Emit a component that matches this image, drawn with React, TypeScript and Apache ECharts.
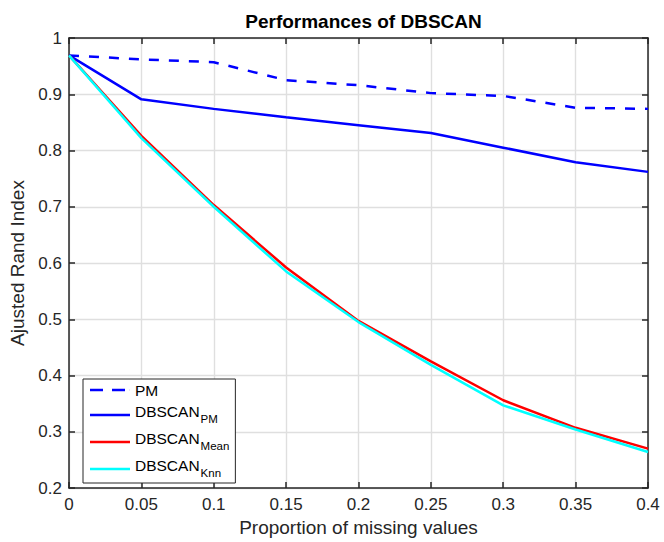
import React, { useEffect, useRef } from "react";
import * as echarts from "echarts";

const xValues = [0, 0.05, 0.1, 0.15, 0.2, 0.25, 0.3, 0.35, 0.4];
const pm = [0.969, 0.962, 0.957, 0.925, 0.916, 0.902, 0.897, 0.876, 0.874];
const dbscanPM = [0.969, 0.891, 0.874, 0.859, 0.845, 0.831, 0.805, 0.779, 0.762];
const dbscanMean = [0.969, 0.826, 0.703, 0.592, 0.497, 0.425, 0.356, 0.307, 0.27];
const dbscanKnn = [0.969, 0.822, 0.7, 0.585, 0.495, 0.419, 0.347, 0.304, 0.264];

const seriesNames = ["PM", "DBSCAN_PM", "DBSCAN_Mean", "DBSCAN_Knn"];
const seriesColors = ["#0000ff", "#0000ff", "#ff0000", "#00ffff"];
const seriesData = [pm, dbscanPM, dbscanMean, dbscanKnn];

const FONT = "'Liberation Sans', Arial, Helvetica, sans-serif";
const AXIS_COLOR = "#262626";
const DASH_ICON = "path://M0,0h13v2.5h-13zM22,0h13v2.5h-13zM39.9,0h0.1v2.5h-0.1z";

export default function App() {
  const ref = useRef<HTMLDivElement>(null);

  useEffect(() => {
    if (!ref.current) return;
    const chart = echarts.init(ref.current, null, { renderer: "svg" });

    const baseX = {
      type: "value" as const,
      min: 0,
      max: 0.4,
      interval: 0.05,
    };
    const baseY = {
      type: "value" as const,
      min: 0.2,
      max: 1,
      interval: 0.1,
    };

    const option = {
      animation: false,
      backgroundColor: "#ffffff",
      textStyle: { fontFamily: FONT },
      title: {
        text: "Performances of DBSCAN",
        left: 358.5,
        textAlign: "center",
        top: 7,
        textStyle: {
          fontFamily: FONT,
          fontSize: 19,
          fontWeight: "bold",
          color: "#000000",
        },
      },
      grid: { left: 69, right: 16, top: 38, bottom: 48, containLabel: false },
      legend: {
        orient: "vertical",
        left: 83,
        top: 379,
        padding: [3, 6, 4, 7],
        itemGap: 5,
        itemWidth: 40,
        itemHeight: 2.5,
        symbolKeepAspect: false,
        backgroundColor: "#ffffff",
        borderColor: AXIS_COLOR,
        borderWidth: 1,
        borderRadius: 0,
        data: seriesNames.map((name, i) => ({
          name,
          icon: i === 0 ? DASH_ICON : "rect",
          itemStyle: { color: seriesColors[i], borderWidth: 0 },
        })),
        formatter: (name: string) => {
          if (name.indexOf("_") < 0) return "{p|" + name + "}";
          const parts = name.split("_");
          return "{a|" + parts[0] + "}{b|" + parts[1] + "}";
        },
        textStyle: {
          fontFamily: FONT,
          color: "#000000",
          rich: {
            p: { fontFamily: FONT, fontSize: 15.5, color: "#000000", padding: [2, 0, 2, 0] },
            a: { fontFamily: FONT, fontSize: 15.5, color: "#000000", padding: [0, 0, 8, 0] },
            b: { fontFamily: FONT, fontSize: 11.5, color: "#000000", padding: [8, 0, 0, 1] },
          },
        },
      },
      xAxis: [
        {
          ...baseX,
          position: "bottom",
          name: "Proportion of missing values",
          nameLocation: "middle",
          nameGap: 30,
          nameTextStyle: { fontFamily: FONT, fontSize: 19, color: AXIS_COLOR },
          axisLine: { show: true, onZero: false, lineStyle: { color: AXIS_COLOR, width: 1.5 } },
          axisTick: { show: true, inside: true, length: 6, lineStyle: { color: AXIS_COLOR, width: 1.5 } },
          axisLabel: { fontFamily: FONT, fontSize: 17, color: AXIS_COLOR, margin: 8 },
          splitLine: { show: true, lineStyle: { color: "#dfdfdf", width: 1.4 } },
        },
        {
          ...baseX,
          position: "top",
          axisLine: { show: true, onZero: false, lineStyle: { color: AXIS_COLOR, width: 1.5 } },
          axisTick: { show: true, inside: true, length: 6, lineStyle: { color: AXIS_COLOR, width: 1.5 } },
          axisLabel: { show: false },
          splitLine: { show: false },
        },
      ],
      yAxis: [
        {
          ...baseY,
          position: "left",
          name: "Ajusted Rand Index",
          nameLocation: "middle",
          nameGap: 40,
          nameTextStyle: { fontFamily: FONT, fontSize: 19, color: AXIS_COLOR },
          axisLine: { show: true, onZero: false, lineStyle: { color: AXIS_COLOR, width: 1.5 } },
          axisTick: { show: true, inside: true, length: 6, lineStyle: { color: AXIS_COLOR, width: 1.5 } },
          axisLabel: { fontFamily: FONT, fontSize: 17, color: AXIS_COLOR, margin: 7 },
          splitLine: { show: true, lineStyle: { color: "#dfdfdf", width: 1.4 } },
        },
        {
          ...baseY,
          position: "right",
          axisLine: { show: true, onZero: false, lineStyle: { color: AXIS_COLOR, width: 1.5 } },
          axisTick: { show: true, inside: true, length: 6, lineStyle: { color: AXIS_COLOR, width: 1.5 } },
          axisLabel: { show: false },
          splitLine: { show: false },
        },
      ],
      series: seriesNames.map((name, i) => ({
        name,
        type: "line",
        xAxisIndex: 0,
        yAxisIndex: 0,
        data: xValues.map((x, j) => [x, seriesData[i][j]]),
        showSymbol: false,
        symbol: "none",
        color: seriesColors[i],
        lineStyle: {
          color: seriesColors[i],
          width: 2.5,
          type: i === 0 ? [10, 10] : "solid",
        },
        emphasis: { disabled: true },
        z: 2 + i,
      })),
    };

    chart.setOption(option as any);
    return () => chart.dispose();
  }, []);

  return (
    <div
      ref={ref}
      style={{ position: "fixed", left: 0, top: 0, width: 664, height: 542 }}
    />
  );
}
